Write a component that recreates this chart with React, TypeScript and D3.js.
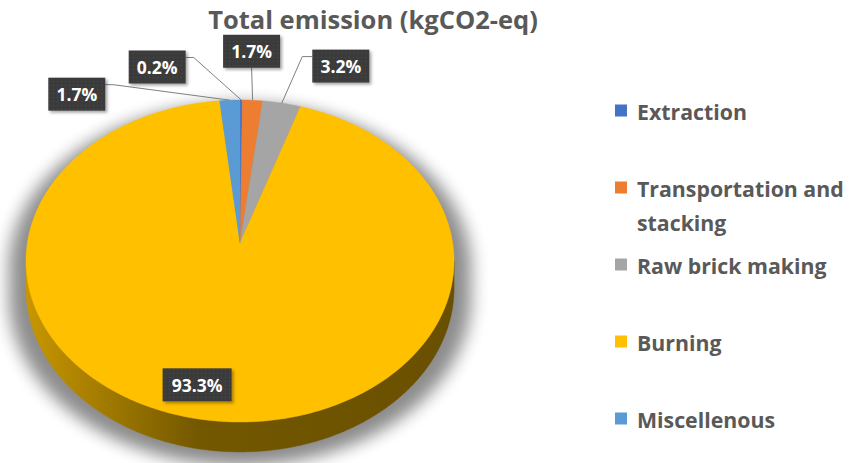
import React from "react";
import * as d3 from "d3";

// ---- data ----
const categories = ["Extraction", "Transportation and stacking", "Raw brick making", "Burning", "Miscellenous"];
const values = [0.2, 1.7, 3.2, 93.3, 1.7];
const colors = ["#4472C4", "#ED7D31", "#A5A5A5", "#FFC000", "#5B9BD5"];
const title = "Total emission (kgCO2-eq)";

// ---- layout ----
const W = 850, HGT = 463;
const CX = 240, CY = 243, A = 212.7, B = 159, P = 0.1118, DEPTH = 26.6;
// label box offsets relative to the slice's rim anchor (dx, dy) and mode
const labelLayout = [
  { dx: -84, dy: -33, side: "left" },
  { dx: -1, dy: -49, side: "bottom" },
  { dx: 59, dy: -37, side: "right" },
  { dx: -23, dy: 3, side: "inside" },
  { dx: -153, dy: -6, side: "left" },
];
const legendX = 615, legendTop = 111, legendStep = 77, legendFont = 21.3, legendLineH = 34;
const labelFont = 17.5;

function proj(theta: number, r: number, down = 0): [number, number] {
  const u = r * Math.sin(theta);
  const v = -r * Math.cos(theta);
  const s = 1 / (1 - P * v);
  return [CX + A * u * s, CY + B * v * s + down * s];
}

function rimPoints(a0: number, a1: number, r = 1, down = 0) {
  const n = Math.max(2, Math.ceil(((a1 - a0) * 180) / Math.PI * 2));
  const pts: [number, number][] = [];
  for (let i = 0; i <= n; i++) pts.push(proj(a0 + ((a1 - a0) * i) / n, r, down));
  return pts;
}

function wrap(text: string, maxW: number, font: string) {
  const c = document.createElement("canvas").getContext("2d")!;
  c.font = font;
  const words = text.split(" ");
  const lines: string[] = [];
  let cur = "";
  for (const w of words) {
    const t = cur ? cur + " " + w : w;
    if (c.measureText(t).width > maxW && cur) {
      lines.push(cur);
      cur = w;
    } else cur = t;
  }
  if (cur) lines.push(cur);
  return lines;
}

export default function App() {
  const arcs = d3.pie<number>().sort(null).value((d) => d).startAngle(0).endAngle(2 * Math.PI)(values);
  const line = d3.line();
  const phi0 = Math.asin(P);
  const visA0 = Math.PI / 2 + phi0, visA1 = (3 * Math.PI) / 2 - phi0;

  // silhouette (for shadow)
  const topAll = rimPoints(0, 2 * Math.PI);
  const frontTop = rimPoints(visA0, visA1);
  const frontBot = rimPoints(visA0, visA1, 1, DEPTH).reverse();
  const sidePath = line([...frontTop, ...frontBot])! + "Z";

  const legendFontStr = `bold ${legendFont}px "Open Sans"`;
  const textX = legendX + 22;

  return (
    <svg width={W} height={HGT} style={{ position: "absolute", left: 0, top: 0, background: "#fff" }}>
      <defs>
        <filter id="pieShadow" x="-20%" y="-20%" width="140%" height="140%">
          <feGaussianBlur stdDeviation="8" />
        </filter>
        <filter id="boxShadow" x="-30%" y="-30%" width="160%" height="160%">
          <feDropShadow dx="2" dy="2" stdDeviation="1.5" floodColor="#000" floodOpacity="0.35" />
        </filter>
        <pattern id="dots" width="4" height="4" patternUnits="userSpaceOnUse">
          <rect width="4" height="4" fill="#3b3b3b" />
          <rect x="1" y="1" width="1" height="1" fill="#4c4c4c" />
        </pattern>
        {arcs.map((a, i) => {
          const c = d3.color(colors[i])!;
          return (
            <linearGradient key={i} id={`side${i}`} gradientUnits="userSpaceOnUse" x1={CX - A} x2={CX + A} y1={0} y2={0}>
              <stop offset="0%" stopColor={c.darker(0.7).formatHex()} />
              <stop offset="40%" stopColor={c.darker(2.2).formatHex()} />
              <stop offset="100%" stopColor={c.darker(2.5).formatHex()} />
            </linearGradient>
          );
        })}
      </defs>

      {/* title */}
      <text x={373} y={29} textAnchor="middle" fontFamily="Open Sans" fontWeight="bold" fontSize={25.5} fill="#595959">
        {title}
      </text>

      {/* shadow */}
      <g transform={`translate(${CX},${CY + 60}) scale(1.08,1.03) translate(${-CX},${-CY - 60}) translate(0,9)`} filter="url(#pieShadow)" opacity={0.45}>
        <path d={line(topAll)! + "Z"} fill="#000" />
        <path d={sidePath} fill="#000" />
      </g>

      {/* sides */}
      {arcs.map((a, i) => {
        const s0 = Math.max(a.startAngle, visA0), s1 = Math.min(a.endAngle, visA1);
        if (s1 <= s0) return null;
        const t = rimPoints(s0, s1);
        const b = rimPoints(s0, s1, 1, DEPTH).reverse();
        return <path key={i} d={line([...t, ...b])! + "Z"} fill={`url(#side${i})`} stroke={`url(#side${i})`} strokeWidth={0.5} />;
      })}

      {/* top faces */}
      {arcs.map((a, i) => {
        const pts: [number, number][] = [proj(0, 0), ...rimPoints(a.startAngle, a.endAngle)];
        return <path key={i} d={line(pts)! + "Z"} fill={colors[i]} stroke={colors[i]} strokeWidth={0.4} />;
      })}

      {/* labels */}
      {arcs.map((a, i) => {
        const L = labelLayout[i];
        const mid = (a.startAngle + a.endAngle) / 2;
        const txt = values[i].toFixed(1) + "%";
        const bw = txt.length > 4 ? 69 : 57, bh = 33;
        if (L.side === "inside") {
          const [ax, ay] = proj(mid, 0.8);
          const cx = ax + L.dx, cy = ay + L.dy;
          return (
            <g key={i}>
              <rect x={cx - bw / 2} y={cy - bh / 2} width={bw} height={bh} fill="url(#dots)" filter="url(#boxShadow)" />
              <text x={cx} y={cy} textAnchor="middle" dominantBaseline="central" fontFamily="Open Sans" fontWeight="bold" fontSize={labelFont} fill="#fff">{txt}</text>
            </g>
          );
        }
        const [ax, ay] = proj(mid, 1);
        const cx = ax + L.dx, cy = ay + L.dy;
        let pts: [number, number][];
        if (L.side === "left") {
          const sx = cx + bw / 2, sy = cy - bh / 2 + 7;
          pts = [[sx, sy], [sx + 8, sy], [ax, ay]];
        } else if (L.side === "right") {
          const sx = cx - bw / 2, sy = cy - bh / 2 + 7;
          pts = [[sx, sy], [sx - 10, sy], [ax, ay]];
        } else {
          pts = [[cx, cy + bh / 2], [ax, ay]];
        }
        return (
          <g key={i}>
            <path d={line(pts)!} fill="none" stroke="#7f7f7f" strokeWidth={1} />
            <rect x={cx - bw / 2} y={cy - bh / 2} width={bw} height={bh} fill="url(#dots)" filter="url(#boxShadow)" />
            <text x={cx} y={cy} textAnchor="middle" dominantBaseline="central" fontFamily="Open Sans" fontWeight="bold" fontSize={labelFont} fill="#fff">{txt}</text>
          </g>
        );
      })}

      {/* legend */}
      {categories.map((c, i) => {
        const y = legendTop + legendStep * i;
        const lines = wrap(c, W - textX + 2, legendFontStr);
        return (
          <g key={i}>
            <rect x={legendX} y={y - 6.5} width={12} height={12} fill={colors[i]} />
            {lines.map((l, j) => (
              <text key={j} x={textX} y={y + j * legendLineH} dominantBaseline="central" fontFamily="Open Sans" fontWeight="bold" fontSize={legendFont} fill="#595959">
                {l}
              </text>
            ))}
          </g>
        );
      })}
    </svg>
  );
}
